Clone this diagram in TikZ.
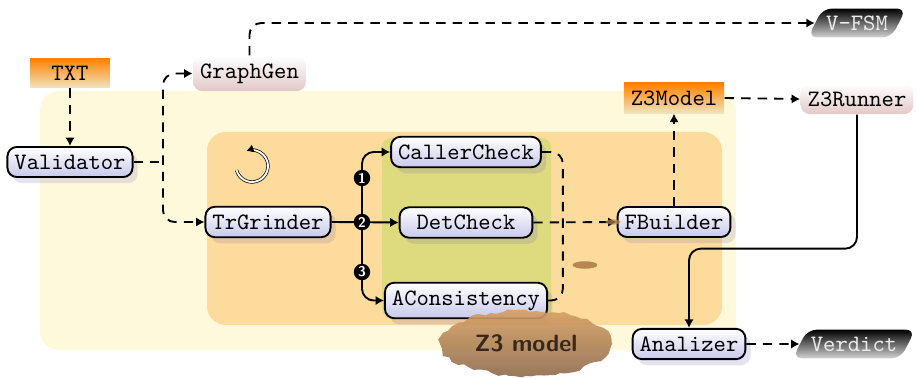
\documentclass[tikz,border=0pt]{standalone}
\usetikzlibrary{arrows.meta,shadows,shapes.geometric,decorations.pathmorphing}
\definecolor{paleyellow}{RGB}{255,249,219}
\definecolor{paleorange}{RGB}{253,219,156}
\definecolor{olivegreen}{RGB}{222,218,126}
\definecolor{boxlavender}{RGB}{200,200,236}
\definecolor{boxpink}{RGB}{226,200,200}
\definecolor{fileorange}{RGB}{255,128,0}
\definecolor{filetan}{RGB}{240,228,190}
\definecolor{clay}{RGB}{184,134,80}
\definecolor{claydark}{RGB}{140,105,75}
\definecolor{claylight}{RGB}{215,160,100}
\definecolor{inkbrown}{RGB}{55,40,28}
\tikzset{
  stage/.style={draw=black, line width=0.8pt, rounded corners=4pt,
    top color=white, bottom color=boxlavender,
    font=\ttfamily, inner xsep=3pt, inner ysep=3.3pt,
    drop shadow={shadow xshift=2.2pt, shadow yshift=-2.6pt,
      fill={rgb,255:red,110;green,100;blue,180}, opacity=0.18}},
  tool/.style={rounded corners=4pt, top color=white, bottom color=boxpink,
    font=\ttfamily, inner xsep=3pt, inner ysep=3.3pt},
  artifact/.style={top color=fileorange, bottom color=filetan,
    font=\ttfamily, inner xsep=3pt, inner ysep=3.3pt},
  result/.style={trapezium, trapezium left angle=63, trapezium right angle=117,
    trapezium stretches body, rounded corners=4pt,
    top color=black, middle color=black!75, bottom color=gray!35,
    text=white!92!black, font=\ttfamily, inner xsep=1.5pt, inner ysep=3pt},
  numdot/.style={circle, fill=black, text=white, inner sep=0pt,
    minimum size=7pt, font=\sffamily\bfseries\fontsize{6}{6}\selectfont},
  link/.style={line width=0.8pt, -{Latex[length=3.6pt,width=4pt]}},
  dlink/.style={link, dash pattern=on 4pt off 3pt},
  dpath/.style={line width=0.8pt, dash pattern=on 4pt off 3pt},
}
\begin{document}
\begin{tikzpicture}[x=0.4255pt, y=-0.4255pt]
\useasboundingbox (0,0) rectangle (917,378);

% nested background panels
\fill[paleyellow, rounded corners=8pt] (40,91) rectangle (736,350);
\fill[paleorange, rounded corners=8pt] (207,132) rectangle (722,325);
\fill[olivegreen, rounded corners=4pt] (382,138) rectangle (551,318);

% iteration mark
\coordinate (loopc) at (252,166);
\draw[double=white, double distance=0.8pt, line width=0.3pt,
      -{Latex[length=3pt,width=3.4pt]}]
  (loopc) ++(195:6.8pt) arc[start angle=195, end angle=470, radius=6.8pt];

% inputs and tools
\node[artifact, minimum width=34pt] (txt) at (70,73) {TXT};
\node[tool] (graphgen) at (249.5,73.5) {GraphGen};
\node[result] (vfsm) at (857,23) {V-FSM};
\node[artifact] (z3model) at (674,98) {Z3Model};
\node[tool] (z3runner) at (857,99) {Z3Runner};

% pipeline stages
\node[stage] (validator) at (70,162) {Validator};
\node[stage] (trgrinder) at (268,222) {TrGrinder};
\node[stage] (callercheck) at (466,152) {CallerCheck};
\node[stage, minimum width=56.5pt] (detcheck) at (466,222.5) {DetCheck};
\node[stage] (aconsistency) at (466,300.5) {AConsistency};
\node[stage] (fbuilder) at (674,222) {FBuilder};
\node[stage] (analizer) at (689,344) {Analizer};
\node[result] (verdict) at (854,344) {Verdict};

% input flow
\draw[dlink] (txt.south) -- (validator.north);
\coordinate (vbus) at (163,162);
\draw[dpath] (validator.east) -- (vbus);
\draw[dlink, {Latex[length=3.6pt,width=4pt]}-{Latex[length=3.6pt,width=4pt]},
      rounded corners=5pt]
  (graphgen.west) -| (vbus) |- (trgrinder.west);
\draw[dlink, rounded corners=5pt] (graphgen.north) |- (vfsm.west);

% fork into the three checks
\coordinate (fork) at (362,222);
\draw[link] (trgrinder.east) -- (detcheck.west);
\draw[link, rounded corners=5pt] (fork) |- (callercheck.west);
\draw[link, rounded corners=5pt] (fork) |- (aconsistency.west);
\node[numdot] (m1) at (362,178) {1};
\node[numdot] (m2) at (362,222) {2};
\node[numdot] (m3) at (362,272) {3};

% checks feed the formula builder
\draw[dpath, rounded corners=5pt]
  (callercheck.east) -- ++(21,0) |- (aconsistency.east);
\draw[dlink] (detcheck.east) -- (fbuilder.west);
\fill[clay, opacity=0.7] (613,222) ellipse[x radius=3.2pt, y radius=1.1pt];
\fill[clay] (585,265) ellipse[x radius=5.3pt, y radius=1.6pt];

% solver stage
\draw[dlink] (fbuilder.north) -- (z3model.south);
\draw[dlink] (z3model.east) -- (z3runner.west);
\draw[link, rounded corners=5pt]
  (z3runner.south) -- ++(0,134) -| (analizer.north);
\draw[dlink] (analizer.east) -- (verdict.west);

% solver model blob
\pgfmathsetseed{7}
\node[ellipse, minimum width=73pt, minimum height=28pt,
      decorate, decoration={random steps, segment length=2.5pt, amplitude=0.8pt},
      top color=claylight, bottom color=claydark, opacity=0.9, text opacity=1,
      text=inkbrown, font=\sffamily\bfseries] (z3cloud) at (526,343) {Z3 model};
\end{tikzpicture}
\end{document}
